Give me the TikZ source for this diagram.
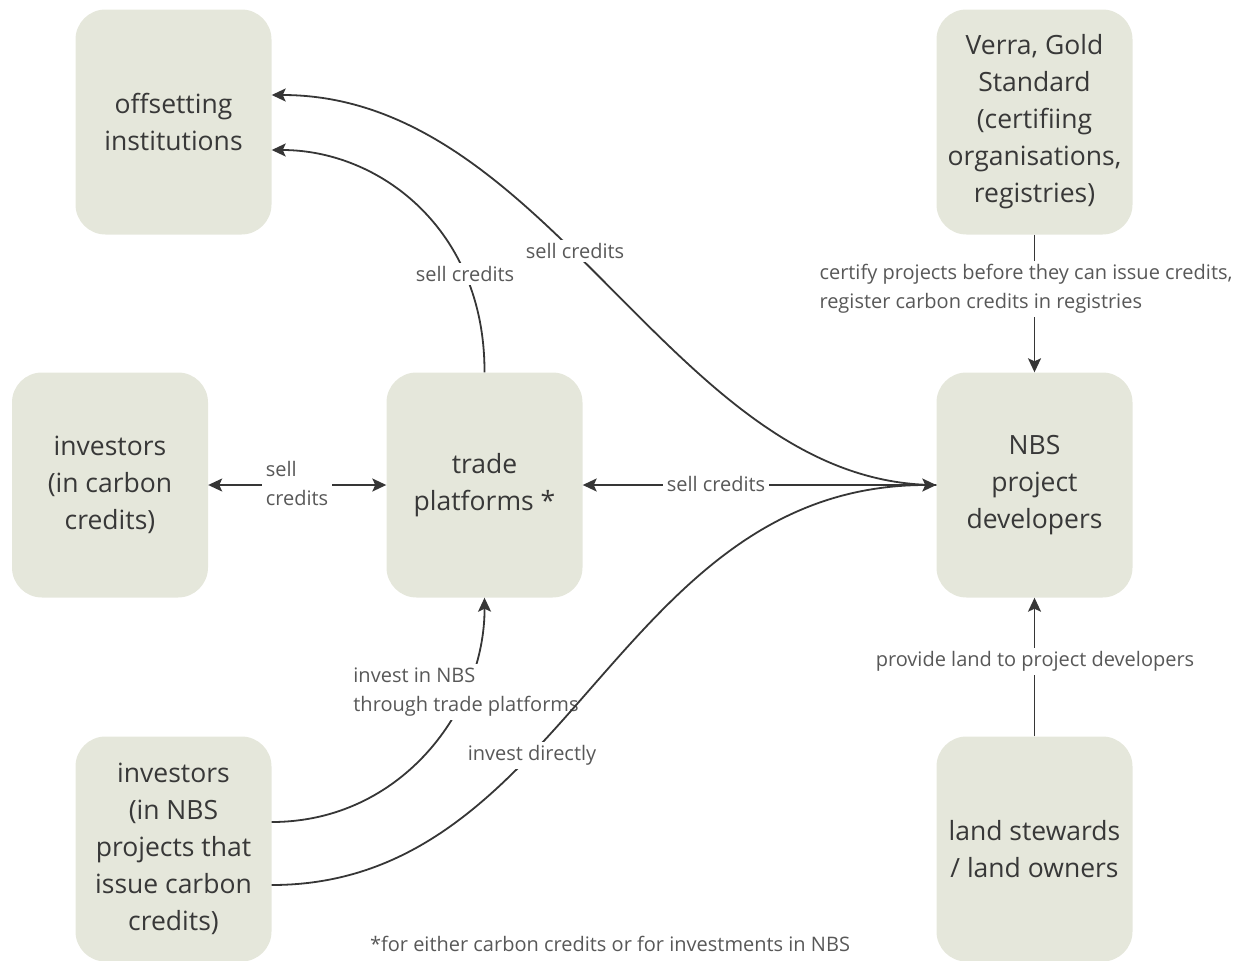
\documentclass[tikz,border=0pt]{standalone}
\usepackage{fontspec}
\setmainfont{Open Sans}
\usetikzlibrary{arrows.meta}
\definecolor{boxfill}{HTML}{E5E7DB}
\definecolor{boxtext}{HTML}{383838}
\definecolor{lblc}{HTML}{585858}
\definecolor{linec}{HTML}{363636}
\begin{document}
\begin{tikzpicture}[x=1pt,y=-1pt,
  >={Stealth[length=14pt,width=13pt,inset=3pt]},
  box/.style={fill=boxfill, rounded corners=30pt, minimum width=196pt, minimum height=225pt,
    align=center, font=\fontsize{26.5}{37}\selectfont, text=boxtext, inner sep=0pt},
  conn/.style={line width=1.8pt, draw=linec, ->},
  lbl/.style={fill=white, text=lblc, font=\fontsize{20}{29}\selectfont, inner sep=3.5pt}]
\useasboundingbox (0,0) rectangle (1245,961);

% boxes
\node[box] (offs)  at (173.5,122) {offsetting\\institutions};
\node[box] (verra) at (1034.5,122) {Verra, Gold\\Standard\\(certifiing\\organisations,\\registries)};
\node[box] (invc)  at (110,485) {investors\\(in carbon\\credits)};
\node[box] (trade) at (484.5,485) {trade\\platforms *};
\node[box] (nbs)   at (1034.5,485) {NBS\\project\\developers};
\node[box] (invn)  at (173.5,849) {investors\\(in NBS\\projects that\\issue carbon\\credits)};
\node[box] (land)  at (1034.5,849) {land stewards\\/ land owners};

% connectors
\draw[conn] (nbs.west) .. controls (674,485) and (553,95) .. ([yshift=27pt]offs.east);
\draw[conn] (trade.north) .. controls (485,230) and (380,150) .. ([yshift=-28pt]offs.east);
\draw[conn] (nbs.west) -- (trade.east);
\draw[conn,<->] (invc.east) -- (trade.west);
\draw[conn] ([yshift=27pt]invn.east) .. controls (402,822) and (485,708) .. (trade.south);
\draw[conn] (verra.south) -- (nbs.north);
\draw[conn] (land.north) -- (nbs.south);

% labels
\node[lbl] (l1) at (575,251) {sell credits};
\node[lbl] (l2) at (465,274) {sell credits};
\node[lbl] (l3) at (716,484) {sell credits};
\node[lbl, align=left] (l4) at (297,483) {sell\\credits};
\node[lbl, align=left] (l5) at (466,692) {invest in NBS\\through trade platforms};
\node[lbl, align=left] (l7) at (1026,289) {certify projects before they can issue credits,\\register carbon credits in registries};
\node[lbl] (l8) at (1035,661) {provide land to project developers};

\draw[conn] ([yshift=-36pt]invn.east) .. controls (569,885) and (615,485) .. (nbs.west);
\node[lbl] (l6) at (532,755) {invest directly};

\node[lbl, fill=none] (foot) at (610,944) {*for either carbon credits or for investments in NBS};
\end{tikzpicture}
\end{document}
